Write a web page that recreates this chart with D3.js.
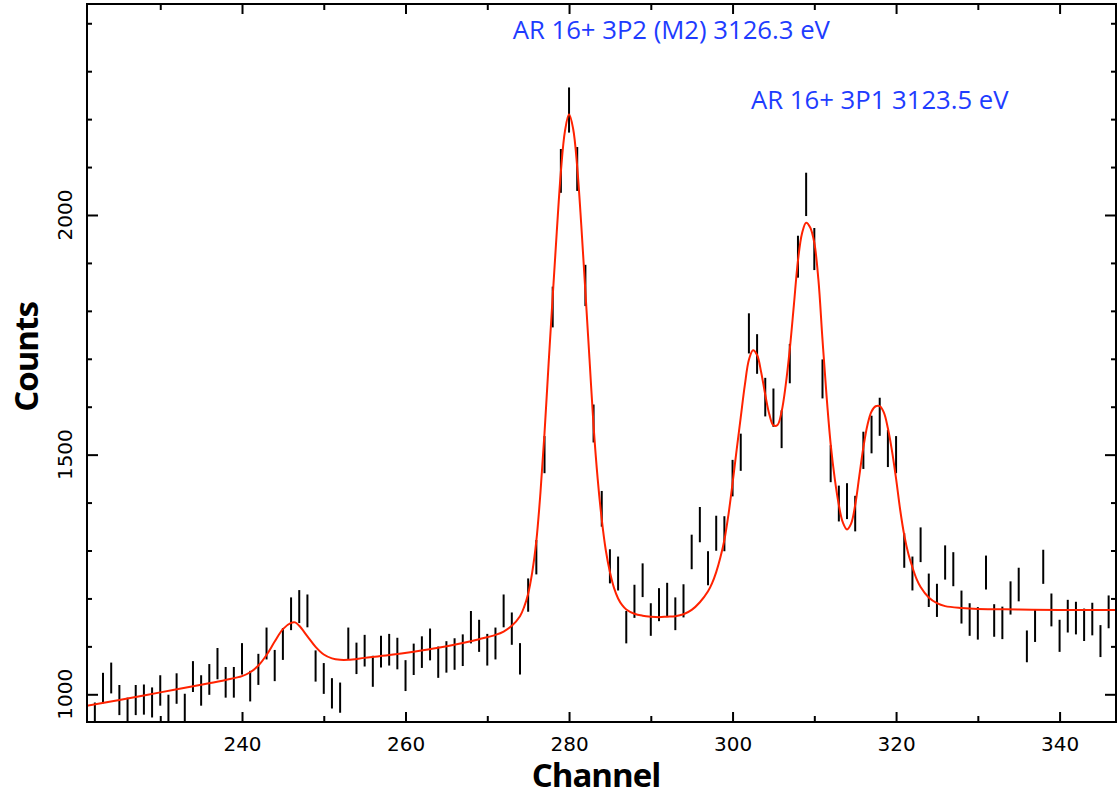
<!DOCTYPE html>
<html><head><meta charset="utf-8">
<script src="https://cdn.jsdelivr.net/npm/d3@7"></script>
<style>html,body{margin:0;padding:0;background:#fff;} svg{display:block;}</style>
</head><body>
<svg id="chart" width="1117" height="795"></svg>
<script>
// ---- data ----
const channels = [222,223,224,225,226,227,228,229,230,231,232,233,234,235,236,237,238,239,240,241,242,243,244,245,246,247,248,249,250,251,252,253,254,255,256,257,258,259,260,261,262,263,264,265,266,267,268,269,270,271,272,273,274,275,276,277,278,279,280,281,282,283,284,285,286,287,288,289,290,291,292,293,294,295,296,297,298,299,300,301,302,303,304,305,306,307,308,309,310,311,312,313,314,315,316,317,318,319,320,321,322,323,324,325,326,327,328,329,330,331,332,333,334,335,336,337,338,339,340,341,342,343,344,345,346];
const counts = [952,1013,1034,988,962,988,989,983,1008,968,1012,970,1037,1008,1031,1064,1025,1025,1074,1017,1052,1106,1060,1105,1168,1183,1174,1059,1033,1002,993,1106,1075,1091,1048,1089,1093,1085,1039,1073,1088,1104,1067,1078,1084,1092,1140,1122,1093,1106,1174,1137,1074,1207,1286,1500,1808,2092,2219,2096,1853,1565,1387,1267,1252,1140,1194,1238,1156,1187,1198,1168,1195,1297,1354,1263,1336,1335,1451,1505,1753,1710,1620,1598,1553,1690,1913,2043,1929,1658,1481,1398,1403,1377,1509,1542,1579,1513,1500,1300,1252,1312,1217,1196,1275,1261,1182,1156,1148,1254,1154,1149,1201,1229,1100,1143,1266,1176,1122,1163,1159,1145,1157,1111,1172];

const fitChannels = [221,225,230,235,238,240,241,242,243,244,245,246,246.5,247,248,249,250,251,252,253,255,258,261,264,267,269,271,272,273,274,274.5,275,275.5,276,276.5,277,277.5,278,278.5,279,279.5,280,280.5,281,281.5,282,282.5,283,283.5,284,284.5,285,285.5,286,286.5,287,288,289,290,291,292,293,294,295,296,297,297.5,298,298.5,299,299.5,300,300.5,301,301.5,302,302.5,303,303.5,304,304.5,305,305.5,306,306.5,307,307.5,308,308.5,309,309.5,310,310.5,311,311.5,312,312.5,313,313.5,314,314.5,315,315.5,316,316.5,317,317.5,318,318.5,319,319.5,320,320.5,321,321.5,322,322.5,323,324,325,326,328,330,335,340,347];
const fitCounts = [976,988,1004,1020,1030,1038,1046,1060,1082,1110,1136,1149,1150,1143,1121,1099,1083,1075,1072,1072,1076,1082,1089,1097,1107,1115,1124,1131,1143,1163,1182,1210,1255,1320,1420,1545,1690,1830,1965,2090,2175,2210,2180,2100,1978,1840,1700,1560,1450,1365,1300,1255,1222,1200,1186,1177,1168,1164,1162,1161,1162,1163,1167,1176,1192,1215,1232,1255,1285,1322,1375,1440,1510,1578,1645,1698,1718,1708,1672,1625,1584,1561,1562,1590,1645,1720,1812,1905,1962,1984,1974,1942,1865,1740,1622,1522,1450,1395,1358,1344,1356,1395,1455,1515,1562,1590,1601,1601,1588,1555,1508,1450,1385,1332,1293,1265,1241,1224,1202,1190,1184,1180,1178,1177,1176,1176];

const xMajorTicks = [240,260,280,300,320,340];
const xMinorTicks = [230,250,270,290,310,330];
const yMajorTicks = [1000,1500,2000];
const yMinorTicks = [1100,1200,1300,1400,1600,1700,1800,1900,2100,2200,2300,2400];
const xDomain = [221.04, 346.9];
const yDomain = [942.2, 2440.2];
const annotationTexts = ["AR 16+ 3P2 (M2) 3126.3 eV", "AR 16+ 3P1 3123.5 eV"];
const xTitle = "Channel";
const yTitle = "Counts";

// ---- layout ----
const W = 1117, H = 795;
const L = 87, R = 1116, T = 4, B = 722;
const svg = d3.select("#chart");
const x = d3.scaleLinear().domain(xDomain).range([L, R]);
const y = d3.scaleLinear().domain(yDomain).range([B, T]);

svg.append("defs").append("clipPath").attr("id","clip")
  .append("rect").attr("x", L).attr("y", T).attr("width", R-L).attr("height", B-T);

const plot = svg.append("g").attr("clip-path","url(#clip)");

// error bars (Poisson, +/- sqrt(N))
plot.append("g").selectAll("line").data(channels.map((c,i)=>({c, v:counts[i]})))
  .join("line")
  .attr("x1", d=>x(d.c)).attr("x2", d=>x(d.c))
  .attr("y1", d=>y(d.v + Math.sqrt(d.v))).attr("y2", d=>y(d.v - Math.sqrt(d.v)))
  .attr("stroke","#000").attr("stroke-width",2);

// fit curve
const line = d3.line().x((d,i)=>x(fitChannels[i])).y(d=>y(d)).curve(d3.curveCatmullRom.alpha(0.5));
plot.append("path").attr("d", line(fitCounts)).attr("fill","none")
  .attr("stroke","#ff2200").attr("stroke-width",2);

// axes ticks
function styleAxis(g){ g.select(".domain").remove(); g.selectAll(".tick line").attr("stroke","#000").attr("stroke-width",2); }
svg.append("g").attr("transform",`translate(0,${B})`)
  .call(d3.axisBottom(x).tickValues(xMajorTicks).tickSizeInner(-10).tickSizeOuter(0).tickPadding(14.5).tickFormat(d3.format("d")))
  .call(styleAxis)
  .call(g=>g.selectAll("text").attr("font-family","DejaVu Sans").attr("font-size",20).attr("fill","#000"));
svg.append("g").attr("transform",`translate(0,${B})`)
  .call(d3.axisBottom(x).tickValues(xMinorTicks).tickSizeInner(-6).tickSizeOuter(0).tickFormat(""))
  .call(styleAxis);
svg.append("g").attr("transform",`translate(0,${T})`)
  .call(d3.axisTop(x).tickValues(xMajorTicks).tickSizeInner(-10).tickSizeOuter(0).tickFormat(""))
  .call(styleAxis);
svg.append("g").attr("transform",`translate(0,${T})`)
  .call(d3.axisTop(x).tickValues(xMinorTicks).tickSizeInner(-6).tickSizeOuter(0).tickFormat(""))
  .call(styleAxis);
svg.append("g").attr("transform",`translate(${L},0)`)
  .call(d3.axisLeft(y).tickValues(yMajorTicks).tickSizeInner(-11).tickSizeOuter(0).tickFormat(""))
  .call(styleAxis);
svg.append("g").attr("transform",`translate(${L},0)`)
  .call(d3.axisLeft(y).tickValues(yMinorTicks).tickSizeInner(-5).tickSizeOuter(0).tickFormat(""))
  .call(styleAxis);
svg.append("g").attr("transform",`translate(${R},0)`)
  .call(d3.axisRight(y).tickValues(yMajorTicks).tickSizeInner(-11).tickSizeOuter(0).tickFormat(""))
  .call(styleAxis);
svg.append("g").attr("transform",`translate(${R},0)`)
  .call(d3.axisRight(y).tickValues(yMinorTicks).tickSizeInner(-5).tickSizeOuter(0).tickFormat(""))
  .call(styleAxis);

// y tick labels rotated
svg.append("g").selectAll("text").data(yMajorTicks).join("text")
  .attr("transform", d=>`translate(71.5,${y(d)}) rotate(-90)`)
  .attr("text-anchor","middle").attr("font-family","DejaVu Sans").attr("font-size",20).attr("fill","#000")
  .text(d=>d);

// frame
svg.append("rect").attr("x",L).attr("y",T).attr("width",R-L).attr("height",B-T)
  .attr("fill","none").attr("stroke","#000").attr("stroke-width",2);

// titles
svg.append("text").attr("x",596).attr("y",787).attr("text-anchor","middle")
  .attr("font-family","Open Sans").attr("font-weight","bold").attr("font-size",33).attr("letter-spacing","-1px")
  .attr("fill","#000").text(xTitle);
svg.append("text").attr("transform","translate(37.5,357) rotate(-90)").attr("text-anchor","middle")
  .attr("font-family","Open Sans").attr("font-weight","bold").attr("font-size",33).attr("letter-spacing","-1px")
  .attr("fill","#000").text(yTitle);

// annotations
const annPos = [[512.7,38.7],[751,108.5]];
svg.append("g").selectAll("text").data(annotationTexts).join("text")
  .attr("x",(d,i)=>annPos[i][0]).attr("y",(d,i)=>annPos[i][1])
  .attr("font-family","Open Sans").attr("font-size",25.7).attr("fill","#1e3cff")
  .text(d=>d);
</script>
</body></html>
